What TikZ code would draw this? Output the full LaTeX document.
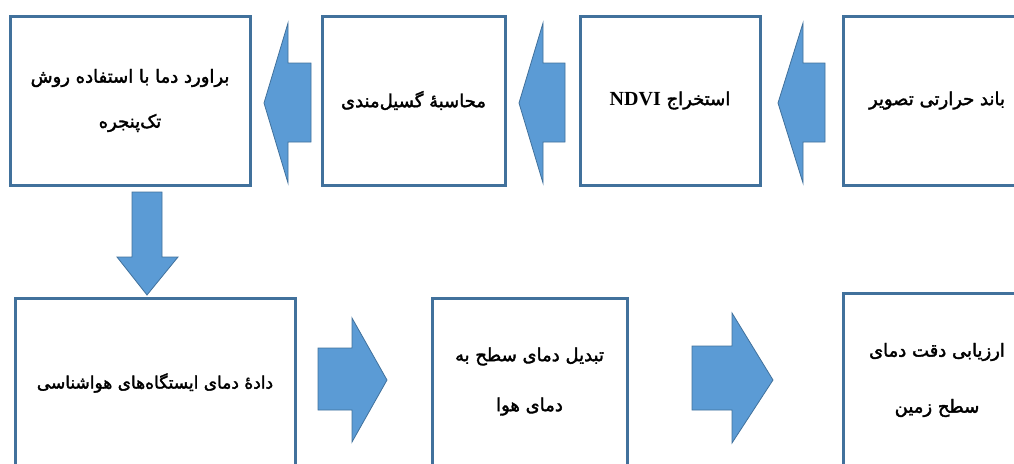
\documentclass[tikz,border=0pt]{standalone}
\usepackage{fontspec}
\TeXXeTstate=1
\newfontfamily\arabicfont[Script=Arabic,FakeBold=2]{DejaVu Sans}
\newfontfamily\latinserif{Liberation Serif}
\definecolor{boxblue}{HTML}{41719C}
\definecolor{arrowfill}{HTML}{5B9BD5}
\begin{document}
\begin{tikzpicture}[x=1pt,y=-1pt,
  box/.style={draw=boxblue, line width=3pt, fill=white, rectangle, inner sep=0pt,
    align=center, font=\arabicfont\fontsize{18}{45}\selectfont},
  blockarrow/.style={fill=arrowfill, draw=boxblue, line width=0.8pt, line join=miter}]
\useasboundingbox (0,0) rectangle (1014,463);
\clip (0,0) rectangle (1014,463);
% top row
\node[box, minimum width=240, minimum height=169] (A) at (130,100.5)
  {\beginR براورد دما با استفاده روش\endR\\ \beginR تک‌پنجره\endR};
\node[box, minimum width=183, minimum height=169] (B) at (413.5,100.5)
  {\beginR محاسبهٔ گسیل‌مندی\endR};
\node[box, minimum width=180, minimum height=169] (C) at (670,100.5)
  {\beginR استخراج \beginL{\latinserif\bfseries\fontsize{20}{22}\selectfont NDVI}\endL\endR};
\node[box, minimum width=188, minimum height=169] (D) at (937,100.5)
  {\beginR باند حرارتی تصویر\endR};
% bottom row
\node[box, minimum width=280, minimum height=170, font=\arabicfont\fontsize{17}{45}\selectfont] (E) at (155,383)
  {\beginR دادهٔ دمای ایستگاه‌های هواشناسی\endR};
\node[box, minimum width=195, minimum height=167, font=\arabicfont\fontsize{18}{50}\selectfont] (F) at (529.5,381.5)
  {\beginR تبدیل دمای سطح به\endR\\ \beginR دمای هوا\endR};
\node[box, minimum width=188, minimum height=174, font=\arabicfont\fontsize{18}{56}\selectfont] (G) at (937,380)
  {\beginR ارزیابی دقت دمای\endR\\ \beginR سطح زمین\endR};
% block arrows
\draw[blockarrow] (311,63) -- (288,63) -- (288,23) -- (264,103) -- (288,183) -- (288,142) -- (311,142) -- cycle;
\draw[blockarrow] (565,63) -- (543,63) -- (543,23) -- (519,103) -- (543,183) -- (543,142) -- (565,142) -- cycle;
\draw[blockarrow] (825,63) -- (803,63) -- (803,23) -- (778,103) -- (803,183) -- (803,142) -- (825,142) -- cycle;
\draw[blockarrow] (132,192) -- (162,192) -- (162,257) -- (178,257) -- (147,295) -- (117,257) -- (132,257) -- cycle;
\draw[blockarrow] (318,348) -- (352,348) -- (352,318) -- (387,380) -- (352,442) -- (352,410) -- (318,410) -- cycle;
\draw[blockarrow] (692,346) -- (732,346) -- (732,313) -- (773,380) -- (732,443) -- (732,410) -- (692,410) -- cycle;
\end{tikzpicture}
\end{document}
